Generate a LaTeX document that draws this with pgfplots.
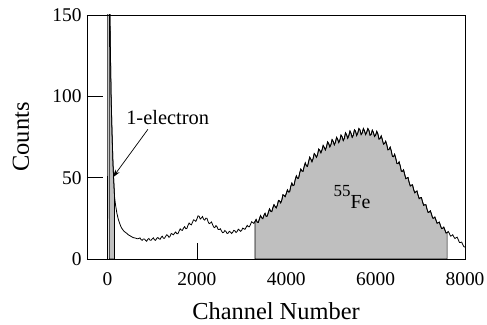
\documentclass[border=0pt]{standalone}
\usepackage{fontspec}
\setmainfont{Liberation Serif}
\usepackage{pgfplots}
\pgfplotsset{compat=1.18}
\usepackage{pgfplotstable}
\usetikzlibrary{arrows.meta}
\definecolor{fillgray}{rgb}{0.75,0.75,0.75}

\pgfplotstableread{
x y
0 0
18 420
40 190
60 135
80 100
100 78
120 60
135 50
157 38
180 33
210 28
240 24.5
270 22
300 19.8
330 18.4
370 17.0
419 16.0
470 14.8
520 14.0
568 13.2
620 12.9
670 12.4
700 12.6
725 13.0
750 11.9
775 11.5
800 12.3
825 12.3
850 11.5
875 10.9
900 12.1
925 12.6
950 11.6
975 11.5
1000 12.4
1025 13.0
1050 11.8
1075 11.5
1100 12.7
1125 13.2
1150 12.5
1175 12.1
1200 13.3
1225 14.0
1250 12.8
1275 12.7
1300 13.9
1325 14.9
1350 14.4
1375 13.3
1400 14.0
1425 15.7
1450 15.3
1475 14.9
1500 15.9
1525 16.6
1550 15.6
1575 15.5
1600 17.1
1625 18.5
1650 17.8
1675 17.6
1700 19.0
1725 19.9
1750 18.6
1775 18.8
1800 20.7
1825 22.1
1850 21.4
1875 21.0
1900 22.5
1925 24.1
1950 23.8
1975 23.1
2000 24.6
2025 26.5
2050 26.3
2075 24.6
2100 25.2
2125 26.1
2150 24.4
2175 23.9
2200 25.1
2225 25.0
2250 22.9
2275 21.7
2300 22.1
2325 22.8
2350 21.2
2375 19.6
2400 19.3
2425 20.5
2450 19.8
2475 18.2
2500 18.1
2525 18.6
2550 17.2
2575 16.2
2600 16.4
2625 17.5
2650 16.9
2675 15.7
2700 15.9
2725 17.0
2750 16.6
2775 15.7
2800 16.4
2825 17.6
2850 17.3
2875 16.3
2900 16.9
2925 18.3
2950 17.8
2975 17.0
3000 17.5
3025 19.0
3050 18.6
3075 18.2
3100 19.4
3125 20.7
3150 19.9
3175 19.8
3200 21.3
3225 22.9
3250 22.4
3275 21.9
3300 23.1
3325 24.3
3350 22.6
3375 22.5
3400 24.8
3425 26.7
3450 25.3
3475 24.8
3500 26.9
3525 28.1
3550 26.2
3575 26.4
3600 28.8
3625 30.8
3650 29.4
3675 29.1
3700 31.5
3725 33.4
3750 32.3
3775 31.4
3800 33.1
3825 36.0
3850 35.7
3875 34.5
3900 36.2
3925 39.5
3950 39.1
3975 38.3
4000 40.3
4025 42.5
4050 41.2
4075 41.3
4100 44.6
4125 46.7
4150 45.1
4175 45.5
4200 48.8
4225 51.1
4250 49.6
4275 49.6
4300 52.9
4325 55.3
4350 54.1
4375 53.9
4400 56.8
4425 59.1
4450 57.3
4475 56.9
4500 59.9
4525 62.6
4550 61.4
4575 59.8
4600 61.7
4625 64.8
4650 63.9
4675 62.5
4700 64.2
4725 67.6
4750 66.8
4775 65.3
4800 67.1
4825 69.8
4850 68.6
4875 67.0
4900 69.0
4925 72.0
4950 70.9
4975 68.9
5000 70.4
5025 73.4
5050 72.3
5075 70.2
5100 71.8
5125 74.8
5150 73.6
5175 71.6
5200 73.2
5225 76.2
5250 75.1
5275 72.8
5300 74.3
5325 77.6
5350 76.4
5375 74.2
5400 75.9
5425 78.7
5450 77.2
5475 74.8
5500 76.1
5525 79.4
5550 78.6
5575 75.9
5600 77.4
5625 80.2
5650 79.3
5675 76.5
5700 77.6
5725 80.2
5750 78.8
5775 76.5
5800 77.9
5825 80.2
5850 79.1
5875 76.1
5900 76.6
5925 79.2
5950 77.8
5975 75.3
6000 76.2
6025 78.5
6050 76.9
6075 73.7
6100 74.1
6125 75.7
6150 73.4
6175 70.6
6200 71.0
6225 72.4
6250 70.2
6275 67.1
6300 67.4
6325 68.8
6350 66.5
6375 63.1
6400 62.9
6425 64.4
6450 62.0
6475 58.8
6500 58.6
6525 59.7
6550 57.3
6575 54.0
6600 53.9
6625 54.8
6650 52.0
6675 49.4
6700 49.8
6725 50.1
6750 47.1
6775 44.9
6800 45.4
6825 45.6
6850 42.8
6875 40.7
6900 41.3
6925 41.8
6950 39.2
6975 37.1
7000 37.6
7025 37.8
7050 35.1
7075 33.0
7100 33.4
7125 33.4
7150 30.6
7175 28.6
7200 28.9
7225 29.6
7250 27.6
7275 25.2
7300 25.1
7325 25.8
7350 23.9
7375 22.0
7400 22.3
7425 22.7
7450 20.6
7475 18.7
7500 18.9
7525 19.6
7550 17.8
7575 16.0
7600 16.2
7625 16.9
7650 15.7
7675 14.1
7700 14.3
7725 14.9
7750 13.6
7775 12.6
7800 13.1
7825 13.4
7850 11.8
7875 10.2
7900 10.2
7925 10.4
7950 8.9
7975 7.5
8000 7.4
}\spectrum

\begin{document}
\begin{tikzpicture}
\begin{axis}[
  scale only axis,
  width=378bp, height=244bp,
  xmin=-460, xmax=8000,
  ymin=0, ymax=150,
  xtick={0,2000,4000,6000,8000},
  ytick={0,50,100,150},
  tick align=inside,
  xtick pos=bottom, ytick pos=left,
  major tick length=16bp,
  tick style={line width=0.7bp, black},
  axis line style={line width=0.8bp},
  /pgf/number format/assume math mode=true,
  /pgf/number format/1000 sep={},
  ticklabel style={font=\fontsize{19.5}{20}\selectfont},
  xticklabel style={yshift=-10bp},
  yticklabel style={xshift=-2bp},
  label style={font=\fontsize{24.5}{26}\selectfont},
  xlabel={Channel Number},
  ylabel={Counts},
  xlabel style={at={(axis description cs:0.5,0)}, anchor=center, yshift=-52bp},
  ylabel style={at={(axis description cs:0,0.5)}, anchor=center, yshift=66bp},
  clip=true,
]
\addplot[fill=fillgray, draw=black, line width=0.7bp, restrict x to domain=40:157] table[x=x,y=y] {\spectrum} \closedcycle;
\addplot[fill=fillgray, draw=black, line width=0.7bp, restrict x to domain=3300:7600] table[x=x,y=y] {\spectrum} \closedcycle;
\addplot[black, line width=0.8bp, mark=none] table[x=x,y=y] {\spectrum};
\draw[line width=0.7bp, -{Stealth[length=8bp,width=5bp]}] (axis cs:903,79.7) -- (axis cs:119,50.2);
\node[font=\fontsize{20.5}{22}\selectfont] at (axis cs:1345,86.7) {1-electron};
\node[anchor=base west, inner sep=0pt, font=\fontsize{20}{22}\selectfont] at (axis cs:5056,31.3) {\raisebox{11.5bp}{\fontsize{17}{18}\selectfont 55}Fe};
\coordinate (sw) at (rel axis cs:0,0);
\coordinate (ne) at (rel axis cs:1,1);
\end{axis}
\pgfresetboundingbox
\path ([shift={(-87bp,-66bp)}]sw) rectangle ([shift={(22bp,15bp)}]ne);
\end{tikzpicture}
\end{document}
